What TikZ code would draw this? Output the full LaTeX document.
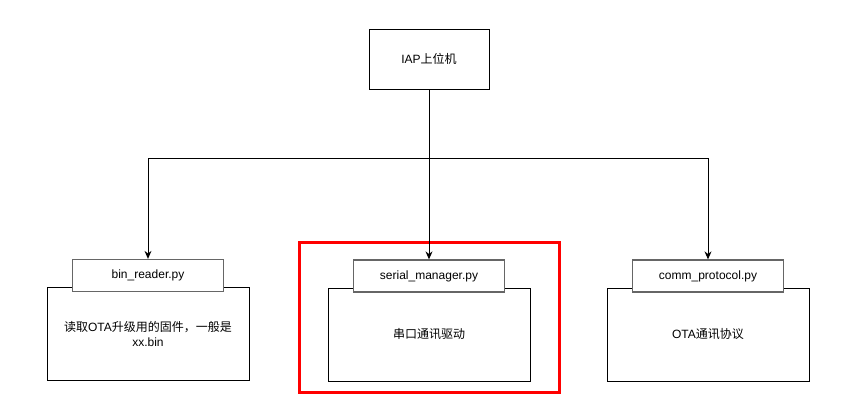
\documentclass[tikz,border=0pt]{standalone}
\usepackage{fontspec}
\setmainfont{Liberation Sans}
\newfontfamily\cjk{Noto Sans CJK SC}
\usetikzlibrary{arrows.meta,calc}
\definecolor{titleedge}{HTML}{666666}
\definecolor{hlred}{HTML}{FF0000}
\begin{document}
\begin{tikzpicture}[x=1pt,y=-1pt,
  every node/.style={font=\fontsize{12}{15}\selectfont, align=center, inner sep=2pt},
  boxed/.style={draw=black, line width=1pt, fill=white},
  topbox/.style={draw=black, line width=1pt, fill=white, minimum width=120pt, minimum height=60pt},
  bodybox/.style={boxed, minimum width=202pt, minimum height=93pt},
  titlebox/.style={draw=titleedge, line width=1.3pt, fill=white, minimum width=151pt, minimum height=32pt},
  link/.style={draw=black, line width=1pt, -{Stealth[length=8pt,width=7pt]}}
]
\useasboundingbox (0,0) rectangle (862,410);

% top-level program
\node[topbox] (iap) at (429,59) {IAP{\cjk 上位机}};

% module bodies
\node[bodybox] (lb) at (148,334) {{\cjk 读取}OTA{\cjk 升级用的固件，一般是}\\xx.bin};
\node[bodybox] (mb) at (429,334.5) {{\cjk 串口通讯驱动}};
\node[bodybox] (rb) at (708,334.5) {OTA{\cjk 通讯协议}};

% module file names
\node[titlebox] (lt) at (148,275.5) {bin\_reader.py};
\node[titlebox] (mt) at (429,276) {serial\_manager.py};
\node[titlebox] (rt) at (708,276) {comm\_protocol.py};

% highlight around the serial module
\node[draw=hlred, line width=3pt, minimum width=260pt, minimum height=150pt, inner sep=0pt] (hl) at (429,317) {};

% connectors, splitting on one horizontal bus
\coordinate (split) at ($(iap.south)+(0,69)$);
\draw[link] (iap.south) -- (mt.north);
\draw[link] (iap.south) -- (split) -| (lt.north);
\draw[link] (iap.south) -- (split) -| (rt.north);
\end{tikzpicture}
\end{document}
